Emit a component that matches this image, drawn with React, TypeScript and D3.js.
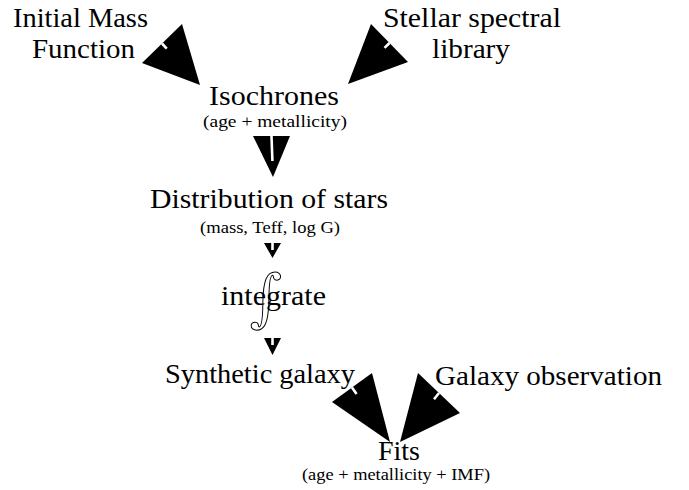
import React from "react";
import * as d3 from "d3";

// ---- content ----
const titles = [
  "Initial Mass",
  "Function",
  "Stellar spectral",
  "library",
  "Isochrones",
  "(age + metallicity)",
  "Distribution of stars",
  "(mass, Teff, log G)",
  "integrate",
  "Synthetic galaxy",
  "Galaxy observation",
  "Fits",
  "(age + metallicity + IMF)",
];
const isSmall = [false, false, false, false, false, true, false, true, false, false, false, false, true];

// ---- layout (x center, baseline, width) ----
const textX = [80.5, 83.5, 472, 471, 274, 275, 269, 270, 273.5, 260, 548.5, 399, 396];
const textY = [27, 58, 27, 58, 105, 127, 208, 233, 305, 383, 385, 460, 480];
const textW = [135, 103, 178, 78, 130, 144, 238, 140, 105, 190, 227, 42, 188];

// arrows: back-edge vertex A, back-edge vertex B, tip, notch length
type Pt = [number, number];
const arrowA: Pt[] = [[182, 24], [371, 24], [253, 136], [264, 243], [264, 338], [372, 373], [418, 373]];
const arrowB: Pt[] = [[142, 63], [408, 62], [290, 136], [281, 243], [281, 338], [332, 402], [460, 413]];
const arrowTip: Pt[] = [[200, 85], [348, 84], [273, 177], [272.5, 258], [272.5, 355], [390, 442], [400, 442]];
const notchLen = [7, 7, 25, 7, 7, 8, 8];

const FONT = "'Liberation Serif', 'DejaVu Serif', serif";

export default function App() {
  const W = 689;
  const H = 490;
  const tri = d3.line<Pt>().curve(d3.curveLinearClosed);

  return (
    <svg
      width={W}
      height={H}
      style={{ position: "absolute", left: 0, top: 0, background: "#fff" }}
    >
      <rect x={0} y={0} width={W} height={H} fill="#fff" />
      {titles.map((t, i) => (
        <text
          key={i}
          x={textX[i]}
          y={textY[i]}
          textAnchor="middle"
          fontFamily={FONT}
          fontSize={isSmall[i] ? 17.5 : 27}
          textLength={textW[i]}
          lengthAdjust="spacingAndGlyphs"
          fill="#000"
        >
          {t}
        </text>
      ))}
      {/* integral sign */}
      <text
        x={266}
        y={319}
        textAnchor="middle"
        fontFamily="'DejaVu Serif', serif"
        fontSize={62}
        fill="none"
        stroke="#000"
        strokeWidth={1}
      >
        ∫
      </text>
      {arrowA.map((a, i) => {
        const b = arrowB[i];
        const tip = arrowTip[i];
        const m: Pt = [(a[0] + b[0]) / 2, (a[1] + b[1]) / 2];
        const dx = tip[0] - m[0];
        const dy = tip[1] - m[1];
        const len = Math.hypot(dx, dy);
        const e: Pt = [m[0] + (dx / len) * notchLen[i], m[1] + (dy / len) * notchLen[i]];
        return (
          <g key={i}>
            <path d={tri([a, b, tip]) || ""} fill="#000" />
            <line x1={m[0]} y1={m[1]} x2={e[0]} y2={e[1]} stroke="#fff" strokeWidth={2.6} />
          </g>
        );
      })}
    </svg>
  );
}
